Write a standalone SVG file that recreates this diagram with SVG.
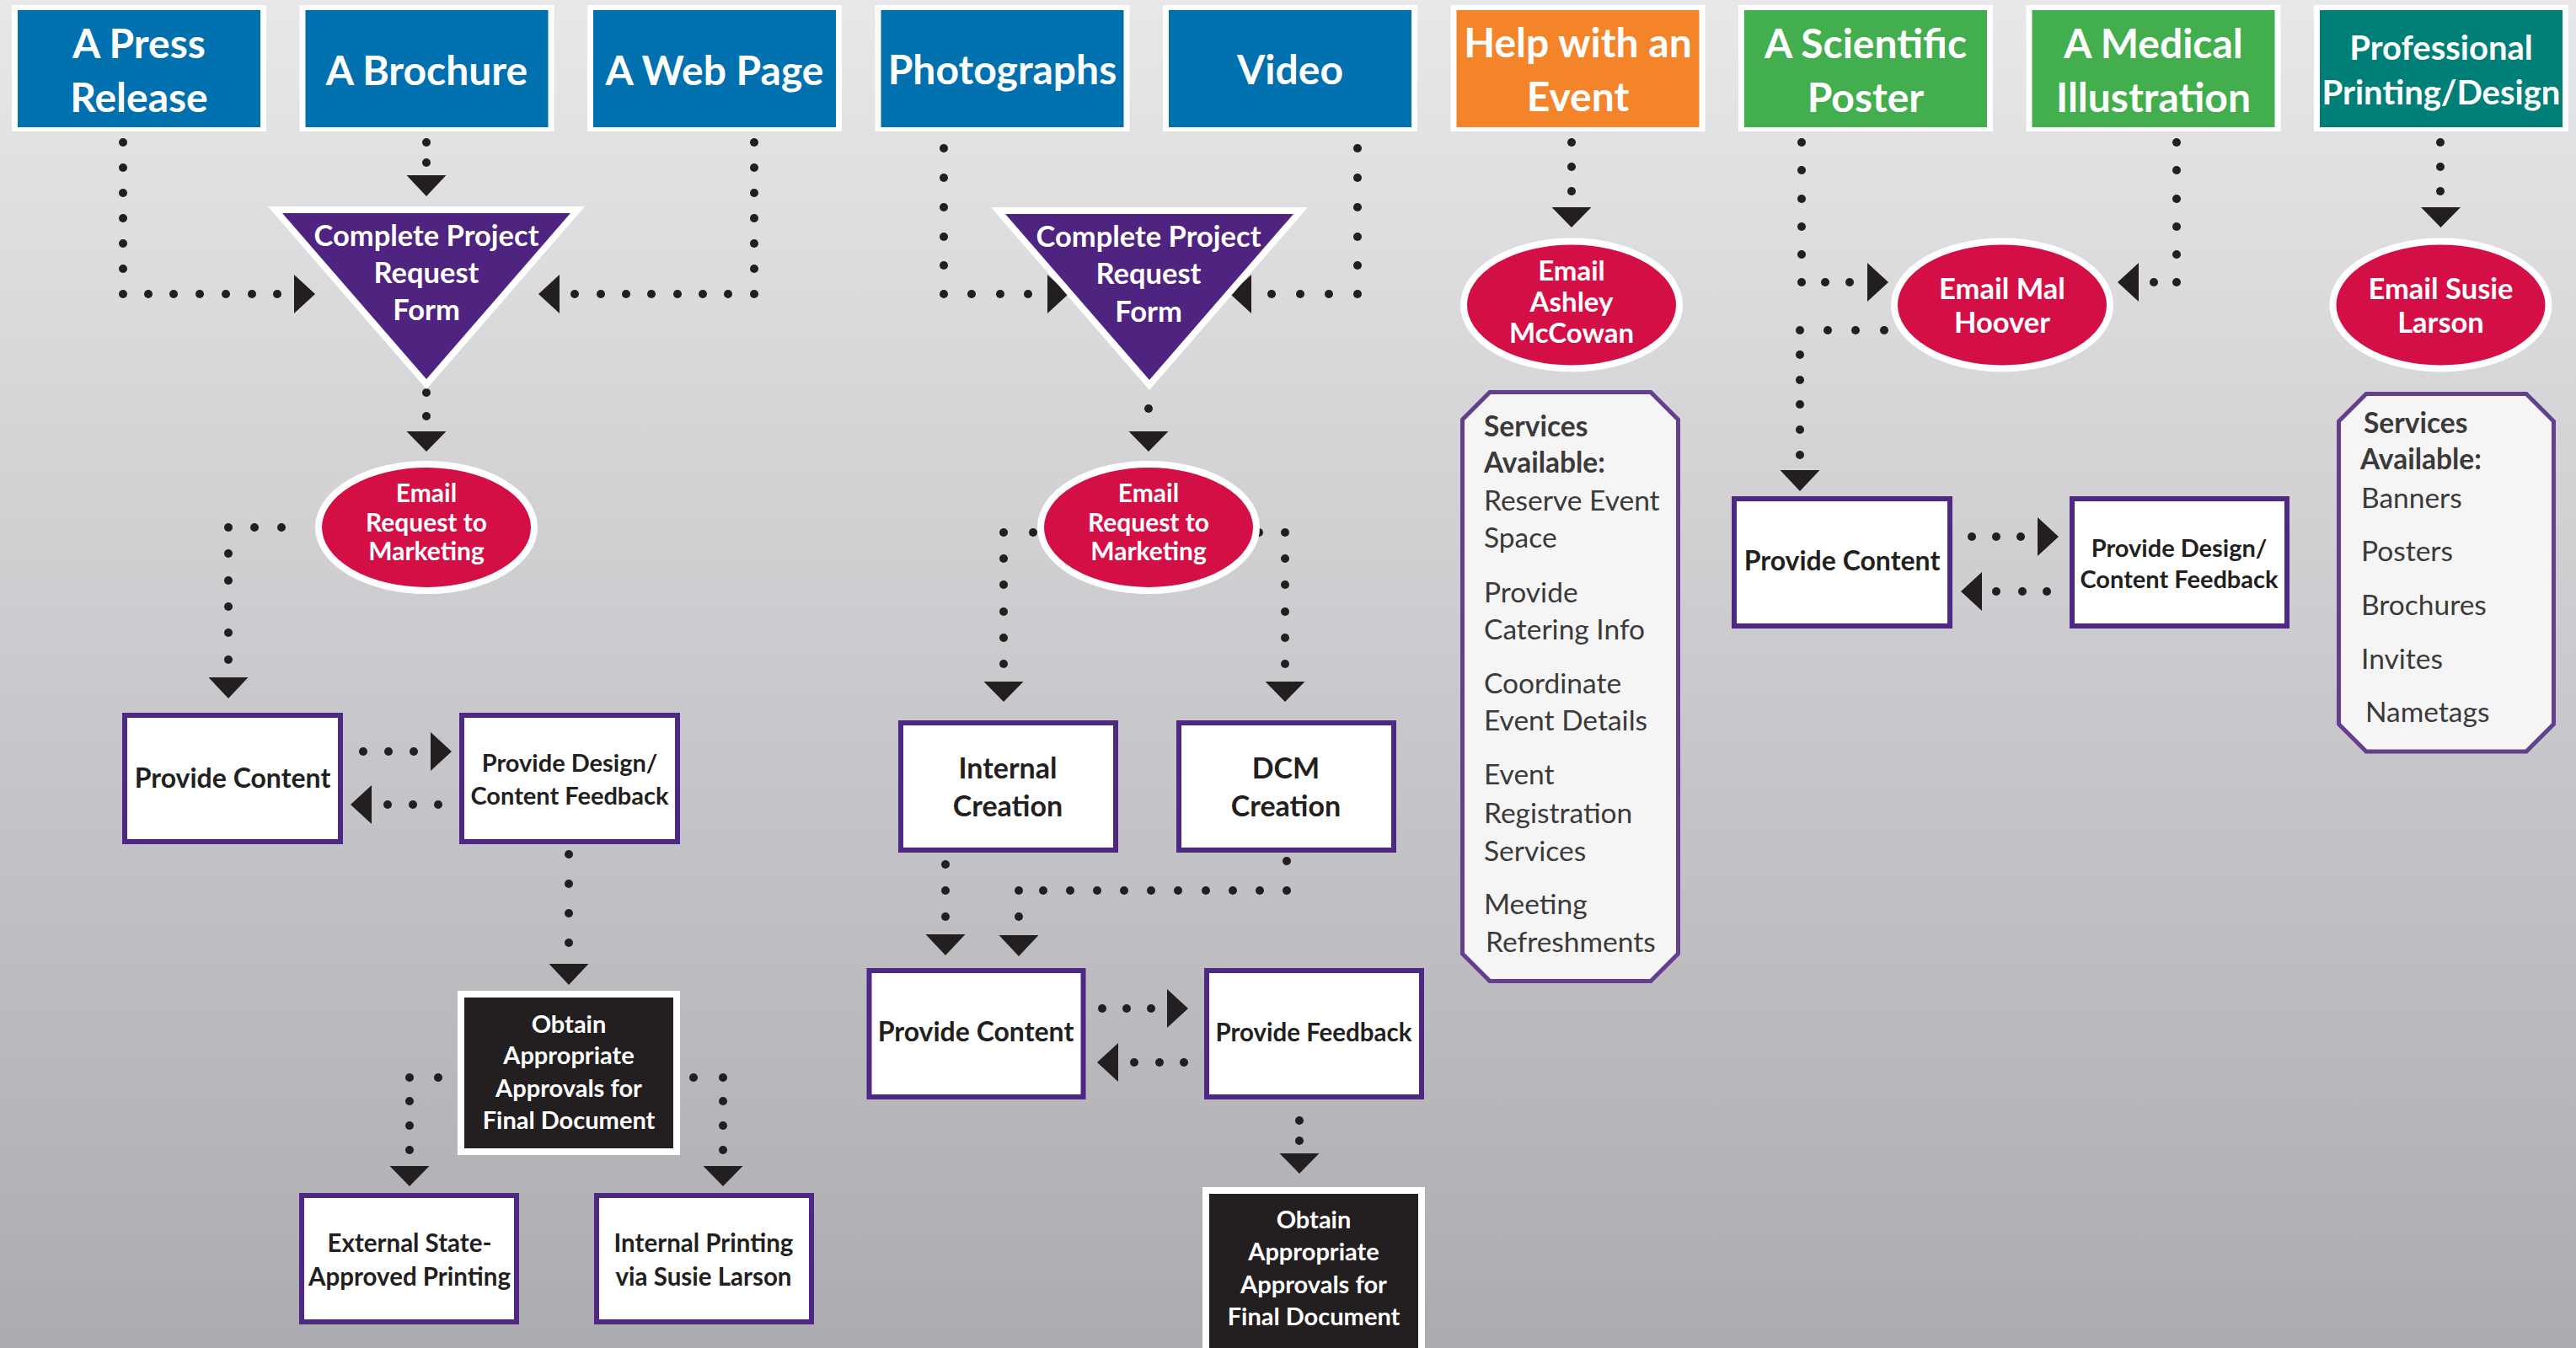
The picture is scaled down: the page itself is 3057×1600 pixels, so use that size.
<svg xmlns="http://www.w3.org/2000/svg" width="3057" height="1600" viewBox="0 0 3057 1600">
<defs>
<linearGradient id="bg" x1="0" y1="0" x2="0" y2="1">
<stop offset="0" stop-color="#e8e8ea"/>
<stop offset="1" stop-color="#acabb0"/>
</linearGradient>
<style>
text{font-family:Lato,"Open Sans","Liberation Sans",sans-serif}
.hb{fill:#ffffff}
.blue{fill:#0071ae}
.orange{fill:#f3842a}
.green{fill:#42ae4d}
.teal{fill:#007f78}
.ht{font-weight:700;fill:#ffffff;text-anchor:middle;font-size:48px}
.tri{fill:#4f2480}
.triw{fill:#ffffff}
.tt{font-weight:700;fill:#ffffff;text-anchor:middle;font-size:34.5px}
.ell{fill:#d30f46;stroke:#ffffff;stroke-width:8}
.et{font-weight:700;fill:#ffffff;text-anchor:middle;font-size:33px}
.box{fill:#ffffff;stroke:#4e2884;stroke-width:6}
.bt{font-weight:700;fill:#231f20;text-anchor:middle;font-size:32px}
.bt2{font-weight:700;fill:#231f20;text-anchor:middle;font-size:29px}
.blk{fill:#231f20;stroke:#ffffff;stroke-width:8}
.kt{font-weight:700;fill:#ffffff;text-anchor:middle;font-size:29px}
.svc{fill:#f5f5f5;stroke:#63408e;stroke-width:5}
.st{fill:#3b393a;font-size:33.5px}
.sb{font-weight:700}
.dot{fill:#231f20}
.arr{fill:#231f20}
</style>
</defs>
<rect x="0" y="0" width="3057" height="1600" fill="url(#bg)"/>

<g id="connectors">
<g id="c-press">
<circle class="dot" cx="146" cy="169" r="5"/><circle class="dot" cx="146" cy="199" r="5"/><circle class="dot" cx="146" cy="229" r="5"/><circle class="dot" cx="146" cy="259" r="5"/><circle class="dot" cx="146" cy="289" r="5"/><circle class="dot" cx="146" cy="319" r="5"/><circle class="dot" cx="146" cy="349" r="5"/>
<circle class="dot" cx="176" cy="349" r="5"/><circle class="dot" cx="206" cy="349" r="5"/><circle class="dot" cx="237" cy="349" r="5"/><circle class="dot" cx="268" cy="349" r="5"/><circle class="dot" cx="299" cy="349" r="5"/><circle class="dot" cx="329" cy="349" r="5"/>
<polygon class="arr" points="349,326 349,372 374,349"/>
</g>
<g id="c-brochure">
<circle class="dot" cx="506" cy="169" r="5"/><circle class="dot" cx="506" cy="193" r="5"/>
<polygon class="arr" points="482.5,208 529.5,208 506,233"/>
</g>
<g id="c-web">
<circle class="dot" cx="895" cy="169" r="5"/><circle class="dot" cx="895" cy="199" r="5"/><circle class="dot" cx="895" cy="229" r="5"/><circle class="dot" cx="895" cy="259" r="5"/><circle class="dot" cx="895" cy="289" r="5"/><circle class="dot" cx="895" cy="319" r="5"/><circle class="dot" cx="895" cy="349" r="5"/>
<circle class="dot" cx="864" cy="349" r="5"/><circle class="dot" cx="834" cy="349" r="5"/><circle class="dot" cx="804" cy="349" r="5"/><circle class="dot" cx="773" cy="349" r="5"/><circle class="dot" cx="743" cy="349" r="5"/><circle class="dot" cx="713" cy="349" r="5"/><circle class="dot" cx="682" cy="349" r="5"/>
<polygon class="arr" points="664,326 664,372 639,349"/>
</g>
<g id="c-formL-email">
<circle class="dot" cx="506" cy="466" r="5"/><circle class="dot" cx="506" cy="494" r="5"/>
<polygon class="arr" points="482.5,512 529.5,512 506,536"/>
</g>
<g id="c-emailL-pc1">
<circle class="dot" cx="334" cy="626" r="5"/><circle class="dot" cx="302" cy="626" r="5"/><circle class="dot" cx="271" cy="626" r="5"/>
<circle class="dot" cx="271" cy="657" r="5"/><circle class="dot" cx="271" cy="689" r="5"/><circle class="dot" cx="271" cy="720" r="5"/><circle class="dot" cx="271" cy="751" r="5"/><circle class="dot" cx="271" cy="783" r="5"/>
<polygon class="arr" points="247.5,804 294.5,804 271,829"/>
</g>
<g id="c-pc1-pd1">
<circle class="dot" cx="431" cy="892" r="5"/><circle class="dot" cx="461" cy="892" r="5"/><circle class="dot" cx="491" cy="892" r="5"/>
<polygon class="arr" points="511,869 511,915 536,892"/>
</g>
<g id="c-pd1-pc1">
<circle class="dot" cx="460" cy="955" r="5"/><circle class="dot" cx="490" cy="955" r="5"/><circle class="dot" cx="520" cy="955" r="5"/>
<polygon class="arr" points="441,932 441,978 416,955"/>
</g>
<g id="c-pd1-ob1">
<circle class="dot" cx="675" cy="1014" r="5"/><circle class="dot" cx="675" cy="1049" r="5"/><circle class="dot" cx="675" cy="1084" r="5"/><circle class="dot" cx="675" cy="1119" r="5"/>
<polygon class="arr" points="651.5,1144 698.5,1144 675,1169"/>
</g>
<g id="c-ob1-ext">
<circle class="dot" cx="520" cy="1279" r="5"/><circle class="dot" cx="486" cy="1279" r="5"/>
<circle class="dot" cx="486" cy="1307" r="5"/><circle class="dot" cx="486" cy="1336" r="5"/><circle class="dot" cx="486" cy="1365" r="5"/>
<polygon class="arr" points="462.5,1384 509.5,1384 486,1408"/>
</g>
<g id="c-ob1-int">
<circle class="dot" cx="823" cy="1279" r="5"/><circle class="dot" cx="858" cy="1279" r="5"/>
<circle class="dot" cx="858" cy="1307" r="5"/><circle class="dot" cx="858" cy="1336" r="5"/><circle class="dot" cx="858" cy="1365" r="5"/>
<polygon class="arr" points="834.5,1384 881.5,1384 858,1408"/>
</g>
<g id="c-photo">
<circle class="dot" cx="1120" cy="176" r="5"/><circle class="dot" cx="1120" cy="211" r="5"/><circle class="dot" cx="1120" cy="246" r="5"/><circle class="dot" cx="1120" cy="281" r="5"/><circle class="dot" cx="1120" cy="315" r="5"/><circle class="dot" cx="1120" cy="349" r="5"/>
<circle class="dot" cx="1153" cy="349" r="5"/><circle class="dot" cx="1187" cy="349" r="5"/><circle class="dot" cx="1220" cy="349" r="5"/>
<polygon class="arr" points="1243,326 1243,372 1268,349"/>
</g>
<g id="c-video">
<circle class="dot" cx="1611" cy="176" r="5"/><circle class="dot" cx="1611" cy="211" r="5"/><circle class="dot" cx="1611" cy="246" r="5"/><circle class="dot" cx="1611" cy="281" r="5"/><circle class="dot" cx="1611" cy="315" r="5"/><circle class="dot" cx="1611" cy="349" r="5"/>
<circle class="dot" cx="1577" cy="349" r="5"/><circle class="dot" cx="1543" cy="349" r="5"/><circle class="dot" cx="1509" cy="349" r="5"/>
<polygon class="arr" points="1485,326 1485,372 1460,349"/>
</g>
<g id="c-formR-email">
<circle class="dot" cx="1363" cy="485" r="5"/>
<polygon class="arr" points="1339.5,512 1386.5,512 1363,536"/>
</g>
<g id="c-emailR-ic">
<circle class="dot" cx="1226" cy="632" r="5"/><circle class="dot" cx="1191" cy="632" r="5"/>
<circle class="dot" cx="1191" cy="663" r="5"/><circle class="dot" cx="1191" cy="694" r="5"/><circle class="dot" cx="1191" cy="726" r="5"/><circle class="dot" cx="1191" cy="757" r="5"/><circle class="dot" cx="1191" cy="788" r="5"/>
<polygon class="arr" points="1167.5,809 1214.5,809 1191,833"/>
</g>
<g id="c-emailR-dcm">
<circle class="dot" cx="1494" cy="632" r="5"/><circle class="dot" cx="1525" cy="632" r="5"/>
<circle class="dot" cx="1525" cy="663" r="5"/><circle class="dot" cx="1525" cy="694" r="5"/><circle class="dot" cx="1525" cy="726" r="5"/><circle class="dot" cx="1525" cy="757" r="5"/><circle class="dot" cx="1525" cy="788" r="5"/>
<polygon class="arr" points="1501.5,809 1548.5,809 1525,833"/>
</g>
<g id="c-ic-pc2">
<circle class="dot" cx="1122" cy="1026" r="5"/><circle class="dot" cx="1122" cy="1057" r="5"/><circle class="dot" cx="1122" cy="1088" r="5"/>
<polygon class="arr" points="1098.5,1109 1145.5,1109 1122,1134"/>
</g>
<g id="c-dcm-pc2">
<circle class="dot" cx="1527" cy="1022" r="5"/><circle class="dot" cx="1527" cy="1057" r="5"/>
<circle class="dot" cx="1495" cy="1057" r="5"/><circle class="dot" cx="1463" cy="1057" r="5"/><circle class="dot" cx="1431" cy="1057" r="5"/><circle class="dot" cx="1398" cy="1057" r="5"/><circle class="dot" cx="1366" cy="1057" r="5"/><circle class="dot" cx="1334" cy="1057" r="5"/><circle class="dot" cx="1302" cy="1057" r="5"/><circle class="dot" cx="1270" cy="1057" r="5"/><circle class="dot" cx="1238" cy="1057" r="5"/><circle class="dot" cx="1209" cy="1057" r="5"/>
<circle class="dot" cx="1209" cy="1088" r="5"/>
<polygon class="arr" points="1185.5,1110 1232.5,1110 1209,1135"/>
</g>
<g id="c-pc2-pf">
<circle class="dot" cx="1308" cy="1197" r="5"/><circle class="dot" cx="1337" cy="1197" r="5"/><circle class="dot" cx="1366" cy="1197" r="5"/>
<polygon class="arr" points="1385,1174 1385,1220 1410,1197"/>
</g>
<g id="c-pf-pc2">
<circle class="dot" cx="1346" cy="1261" r="5"/><circle class="dot" cx="1376" cy="1261" r="5"/><circle class="dot" cx="1405" cy="1261" r="5"/>
<polygon class="arr" points="1327,1238 1327,1284 1302,1261"/>
</g>
<g id="c-pf-ob2">
<circle class="dot" cx="1542" cy="1330" r="5"/><circle class="dot" cx="1542" cy="1354" r="5"/>
<polygon class="arr" points="1518.5,1369 1565.5,1369 1542,1393"/>
</g>
<g id="c-help">
<circle class="dot" cx="1865" cy="169" r="5"/><circle class="dot" cx="1865" cy="198" r="5"/><circle class="dot" cx="1865" cy="227" r="5"/>
<polygon class="arr" points="1841.5,246 1888.5,246 1865,270"/>
</g>
<g id="c-sci">
<circle class="dot" cx="2138" cy="169" r="5"/><circle class="dot" cx="2138" cy="202" r="5"/><circle class="dot" cx="2138" cy="236" r="5"/><circle class="dot" cx="2138" cy="269" r="5"/><circle class="dot" cx="2138" cy="302" r="5"/><circle class="dot" cx="2138" cy="335" r="5"/>
<circle class="dot" cx="2166" cy="335" r="5"/><circle class="dot" cx="2195" cy="335" r="5"/>
<polygon class="arr" points="2216,312 2216,358 2241,335"/>
</g>
<g id="c-med">
<circle class="dot" cx="2583" cy="169" r="5"/><circle class="dot" cx="2583" cy="202" r="5"/><circle class="dot" cx="2583" cy="236" r="5"/><circle class="dot" cx="2583" cy="269" r="5"/><circle class="dot" cx="2583" cy="302" r="5"/><circle class="dot" cx="2583" cy="335" r="5"/>
<circle class="dot" cx="2556" cy="335" r="5"/>
<polygon class="arr" points="2538,312 2538,358 2513,335"/>
</g>
<g id="c-mal-pc3">
<circle class="dot" cx="2236" cy="392" r="5"/><circle class="dot" cx="2202" cy="392" r="5"/><circle class="dot" cx="2169" cy="392" r="5"/><circle class="dot" cx="2136" cy="392" r="5"/>
<circle class="dot" cx="2136" cy="421" r="5"/><circle class="dot" cx="2136" cy="451" r="5"/><circle class="dot" cx="2136" cy="480" r="5"/><circle class="dot" cx="2136" cy="510" r="5"/><circle class="dot" cx="2136" cy="540" r="5"/>
<polygon class="arr" points="2112.5,558 2159.5,558 2136,583"/>
</g>
<g id="c-pc3-pd3">
<circle class="dot" cx="2340" cy="637" r="5"/><circle class="dot" cx="2369" cy="637" r="5"/><circle class="dot" cx="2398" cy="637" r="5"/>
<polygon class="arr" points="2418,614 2418,660 2443,637"/>
</g>
<g id="c-pd3-pc3">
<circle class="dot" cx="2369" cy="702" r="5"/><circle class="dot" cx="2400" cy="702" r="5"/><circle class="dot" cx="2429" cy="702" r="5"/>
<polygon class="arr" points="2352,679 2352,725 2327,702"/>
</g>
<g id="c-prof">
<circle class="dot" cx="2896" cy="169" r="5"/><circle class="dot" cx="2896" cy="198" r="5"/><circle class="dot" cx="2896" cy="227" r="5"/>
<polygon class="arr" points="2873,246 2920,246 2896.5,270"/>
</g>
</g>

<g id="n-press"><rect class="hb" x="14" y="6" width="302" height="150"/><rect class="blue" x="21" y="12" width="288" height="139"/><text class="ht" x="165" y="69">A Press</text><text class="ht" x="165" y="133">Release</text></g>
<g id="n-brochure"><rect class="hb" x="355.5" y="6" width="302" height="150"/><rect class="blue" x="362.5" y="12" width="288" height="139"/><text class="ht" x="506.5" y="101">A Brochure</text></g>
<g id="n-web"><rect class="hb" x="697" y="6" width="302" height="150"/><rect class="blue" x="704" y="12" width="288" height="139"/><text class="ht" x="848" y="101">A Web Page</text></g>
<g id="n-photo"><rect class="hb" x="1038.5" y="6" width="302" height="150"/><rect class="blue" x="1045.5" y="12" width="288" height="139"/><text class="ht" x="1189.5" y="100">Photographs</text></g>
<g id="n-video"><rect class="hb" x="1380" y="6" width="302" height="150"/><rect class="blue" x="1387" y="12" width="288" height="139"/><text class="ht" x="1531" y="100">Video</text></g>
<g id="n-help"><rect class="hb" x="1721.5" y="6" width="302" height="150"/><rect class="orange" x="1728.5" y="12" width="288" height="139"/><text class="ht" x="1872.5" y="68">Help with an</text><text class="ht" x="1872.5" y="132">Event</text></g>
<g id="n-sci"><rect class="hb" x="2063" y="6" width="302" height="150"/><rect class="green" x="2070" y="12" width="288" height="139"/><text class="ht" x="2214" y="69">A Scientific</text><text class="ht" x="2214" y="133">Poster</text></g>
<g id="n-med"><rect class="hb" x="2404.5" y="6" width="302" height="150"/><rect class="green" x="2411.5" y="12" width="288" height="139"/><text class="ht" x="2555.5" y="69">A Medical</text><text class="ht" x="2555.5" y="133">Illustration</text></g>
<g id="n-prof"><rect class="hb" x="2746" y="6" width="302" height="150"/><rect class="teal" x="2753" y="12" width="288" height="139"/><text class="ht" x="2897" y="71" style="font-size:40px">Professional</text><text class="ht" x="2897" y="124" style="font-size:40px">Printing/Design</text></g>

<g id="n-formL"><polygon class="triw" points="318,245 694,245 506,462"/><polygon class="tri" points="335,253 677,253 506,450"/><text class="tt" x="506" y="292">Complete Project</text><text class="tt" x="506" y="336">Request</text><text class="tt" x="506" y="380">Form</text></g>
<g id="n-formR"><polygon class="triw" points="1176,246 1552,246 1364,463"/><polygon class="tri" points="1193,254 1535,254 1364,451"/><text class="tt" x="1363" y="293">Complete Project</text><text class="tt" x="1363" y="337">Request</text><text class="tt" x="1363" y="382">Form</text></g>

<g id="n-emailL"><ellipse class="ell" cx="506" cy="626" rx="128" ry="75"/><text class="et" x="506" y="596" style="font-size:30px">Email</text><text class="et" x="506" y="630.5" style="font-size:30px">Request to</text><text class="et" x="506" y="665" style="font-size:30px">Marketing</text></g>
<g id="n-emailR"><ellipse class="ell" cx="1363" cy="626" rx="128" ry="75"/><text class="et" x="1363" y="596" style="font-size:30px">Email</text><text class="et" x="1363" y="630.5" style="font-size:30px">Request to</text><text class="et" x="1363" y="665" style="font-size:30px">Marketing</text></g>
<g id="n-ashley"><ellipse class="ell" cx="1865" cy="362" rx="128" ry="75.5"/><text class="et" x="1865" y="333">Email</text><text class="et" x="1865" y="370">Ashley</text><text class="et" x="1865" y="407">McCowan</text></g>
<g id="n-mal"><ellipse class="ell" cx="2376" cy="362" rx="128" ry="75.5"/><text class="et" x="2376" y="355" style="font-size:34.5px">Email Mal</text><text class="et" x="2376" y="395" style="font-size:34.5px">Hoover</text></g>
<g id="n-susie"><ellipse class="ell" cx="2896.5" cy="362" rx="128" ry="75.5"/><text class="et" x="2896.5" y="355" style="font-size:34.5px">Email Susie</text><text class="et" x="2896.5" y="395" style="font-size:34.5px">Larson</text></g>

<g id="n-pc1"><rect class="box" x="148" y="849" width="256" height="150"/><text class="bt" x="276" y="935">Provide Content</text></g>
<g id="n-pd1"><rect class="box" x="548" y="849" width="256" height="150"/><text class="bt2" x="676" y="916">Provide Design/</text><text class="bt2" x="676" y="955">Content Feedback</text></g>
<g id="n-ic"><rect class="box" x="1069" y="858" width="255" height="151"/><text class="bt" x="1196" y="924" style="font-size:34px">Internal</text><text class="bt" x="1196" y="969" style="font-size:34px">Creation</text></g>
<g id="n-dcm"><rect class="box" x="1399" y="858" width="255" height="151"/><text class="bt" x="1526" y="924" style="font-size:34px">DCM</text><text class="bt" x="1526" y="969" style="font-size:34px">Creation</text></g>
<g id="n-pc2"><rect class="box" x="1031.5" y="1152" width="254" height="150"/><text class="bt" x="1158" y="1236">Provide Content</text></g>
<g id="n-pf"><rect class="box" x="1432" y="1152" width="255" height="150"/><text class="bt" x="1559" y="1236" style="font-size:29.5px">Provide Feedback</text></g>
<g id="n-ext"><rect class="box" x="358" y="1419" width="255" height="150"/><text class="bt2" x="486" y="1486" style="font-size:29.5px">External State-</text><text class="bt2" x="486" y="1526" style="font-size:29.5px">Approved Printing</text></g>
<g id="n-intp"><rect class="box" x="708" y="1419" width="255" height="150"/><text class="bt2" x="835" y="1486" style="font-size:29.5px">Internal Printing</text><text class="bt2" x="835" y="1526" style="font-size:29.5px">via Susie Larson</text></g>
<g id="n-pc3"><rect class="box" x="2058" y="592" width="256" height="151"/><text class="bt" x="2186" y="677">Provide Content</text></g>
<g id="n-pd3"><rect class="box" x="2459" y="592" width="255" height="151"/><text class="bt2" x="2586" y="661">Provide Design/</text><text class="bt2" x="2586" y="698">Content Feedback</text></g>

<g id="n-ob1"><rect class="blk" x="547" y="1180" width="256" height="187"/><text class="kt" x="675" y="1226">Obtain</text><text class="kt" x="675" y="1263">Appropriate</text><text class="kt" x="675" y="1302">Approvals for</text><text class="kt" x="675" y="1340">Final Document</text></g>
<g id="n-ob2"><rect class="blk" x="1431" y="1413" width="256" height="200"/><text class="kt" x="1559" y="1458">Obtain</text><text class="kt" x="1559" y="1496">Appropriate</text><text class="kt" x="1559" y="1535">Approvals for</text><text class="kt" x="1559" y="1573">Final Document</text></g>

<g id="n-svc1"><polygon class="svc" points="1768,465.5 1959,465.5 1991.5,498 1991.5,1132 1959,1164.5 1768,1164.5 1735.5,1132 1735.5,498"/>
<text class="st sb" x="1761" y="518">Services</text>
<text class="st sb" x="1761" y="561">Available:</text>
<text class="st" x="1761" y="606">Reserve Event</text>
<text class="st" x="1761" y="650">Space</text>
<text class="st" x="1761" y="715">Provide</text>
<text class="st" x="1761" y="759">Catering Info</text>
<text class="st" x="1761" y="823">Coordinate</text>
<text class="st" x="1761" y="867">Event Details</text>
<text class="st" x="1761" y="931">Event</text>
<text class="st" x="1761" y="977">Registration</text>
<text class="st" x="1761" y="1022">Services</text>
<text class="st" x="1761" y="1085">Meeting</text>
<text class="st" x="1763" y="1130">Refreshments</text>
</g>
<g id="n-svc2"><polygon class="svc" points="2808,467.5 2998,467.5 3030.5,500 3030.5,859.5 2998,892 2808,892 2775.5,859.5 2775.5,500"/>
<text class="st sb" x="2805" y="514">Services</text>
<text class="st sb" x="2801" y="557">Available:</text>
<text class="st" x="2802" y="603">Banners</text>
<text class="st" x="2802" y="666">Posters</text>
<text class="st" x="2802" y="730">Brochures</text>
<text class="st" x="2802" y="794">Invites</text>
<text class="st" x="2807" y="857">Nametags</text>
</g>
</svg>
